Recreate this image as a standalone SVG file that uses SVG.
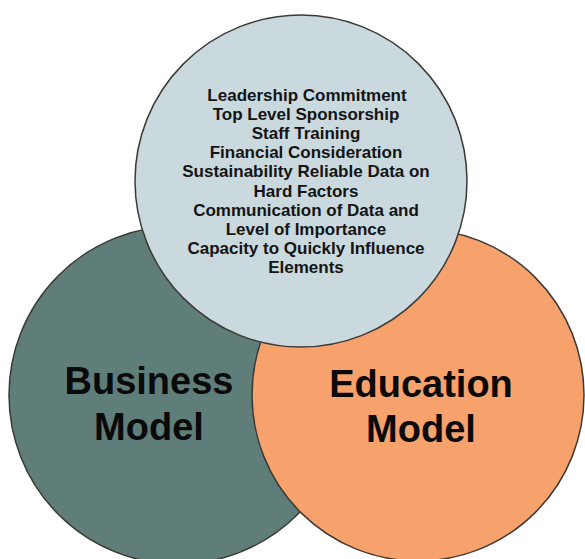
<svg xmlns="http://www.w3.org/2000/svg" width="585" height="559" viewBox="0 0 585 559">
<style>
.c{stroke:#3d3a36;stroke-width:1.5}
.small{font-family:"Liberation Sans",Arial,sans-serif;font-weight:bold;font-size:17px;fill:#141414;text-anchor:middle}
.big{font-family:"Liberation Sans",Arial,sans-serif;font-weight:bold;font-size:38px;fill:#0a0a0a;text-anchor:middle}
</style>
<rect width="585" height="559" fill="#ffffff"/>
<g id="business">
<circle class="c" cx="178" cy="395" r="169" fill="#5f7d79"/>
<text class="big" x="149" y="394">Business</text>
<text class="big" x="149" y="440">Model</text>
</g>
<g id="education">
<circle class="c" cx="418" cy="395" r="166" fill="#f7a26c"/>
<text class="big" x="421" y="397">Education</text>
<text class="big" x="421" y="442">Model</text>
</g>
<g id="factors">
<circle class="c" cx="301" cy="181" r="166" fill="#c9d9de"/>
<text class="small" x="307" y="101">Leadership Commitment</text>
<text class="small" x="306" y="120">Top Level Sponsorship</text>
<text class="small" x="306" y="139">Staff Training</text>
<text class="small" x="306" y="158">Financial Consideration</text>
<text class="small" x="306" y="177">Sustainability Reliable Data on</text>
<text class="small" x="306" y="197">Hard Factors</text>
<text class="small" x="306" y="216">Communication of Data and</text>
<text class="small" x="306" y="235">Level of Importance</text>
<text class="small" x="306" y="254">Capacity to Quickly Influence</text>
<text class="small" x="306" y="273">Elements</text>
</g>
<g id="connectors"/>
</svg>
